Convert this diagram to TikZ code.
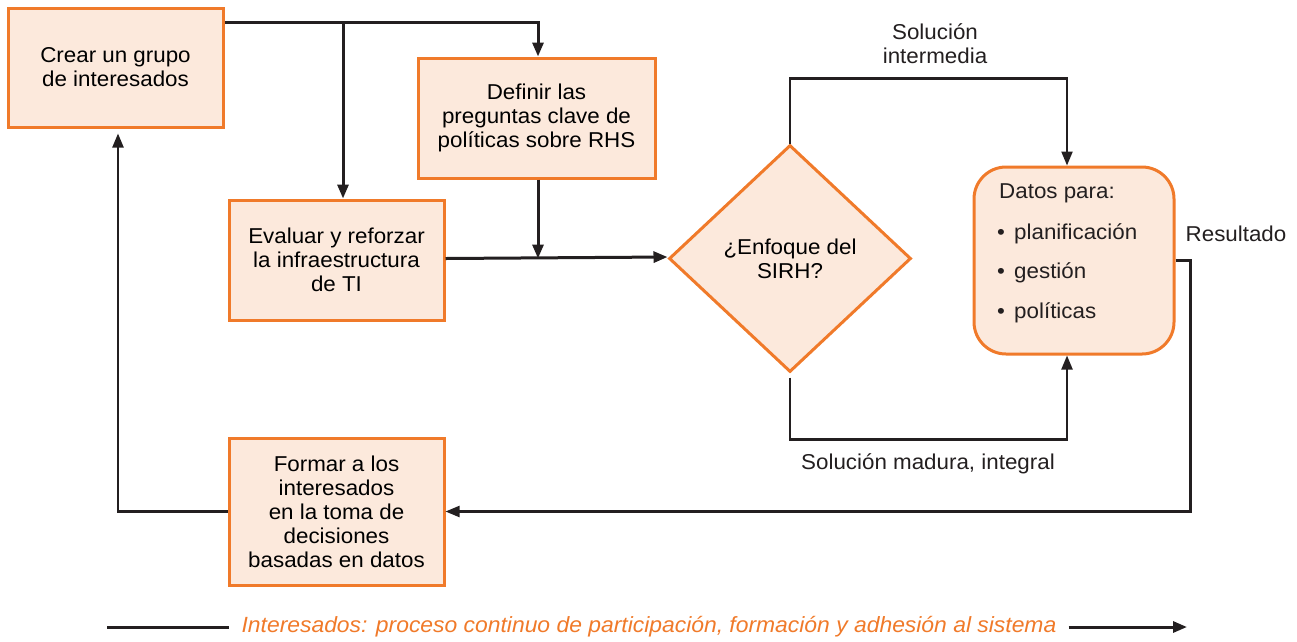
\documentclass[tikz,border=0pt]{standalone}
\usepackage{fontspec}
\setmainfont{Liberation Sans}[FakeStretch=1.04]
\usetikzlibrary{arrows.meta,shapes.geometric,calc}
\definecolor{orng}{HTML}{F07A2A}
\definecolor{peach}{HTML}{FCE9DC}
\definecolor{ink}{HTML}{231F20}
\begin{document}
\begin{tikzpicture}[x=1pt,y=-1pt,
  font=\fontsize{21.5}{24}\selectfont,
  box/.style={draw=orng,fill=peach,line width=3pt,align=center,inner sep=0pt},
  conn/.style={draw=ink,line width=3pt,-{Triangle[length=14pt,width=11pt]}},
  thin/.style={draw=ink,line width=2.2pt,-{Triangle[length=14pt,width=11pt]}},
  lbl/.style={text=ink,align=center,inner sep=0pt}]
\useasboundingbox (0,0) rectangle (1297,641);
\node[box,minimum width=215pt,minimum height=119pt] (A) at (115.5,67.5) {Crear un grupo\\de interesados};
\node[box,minimum width=237pt,minimum height=120pt] (B) at (536.5,118) {Definir las\\preguntas clave de\\políticas sobre RHS};
\node[box,minimum width=215pt,minimum height=120pt] (C) at (336.5,260) {Evaluar y reforzar\\la infraestructura\\de TI};
\node[box,minimum width=215pt,minimum height=147pt] (E) at (336.5,511.5) {Formar a los\\interesados\\en la toma de\\decisiones\\basadas en datos};
\node[box,shape=diamond,minimum width=242pt,minimum height=227pt] (dia) at (790,258.5) {¿Enfoque del\\SIRH?};
\node[box,rounded corners=32pt,minimum width=200pt,minimum height=187pt] (D) at (1074,260.5) {};
\node[lbl,anchor=west] (d0) at (999,193) {Datos para:};
\node[lbl] (b1) at (1001,234) {•};
\node[lbl] (b2) at (1001,273) {•};
\node[lbl] (b3) at (1001,313) {•};
\node[lbl,anchor=west] (d1) at (1014,234) {planificación};
\node[lbl,anchor=west] (d2) at (1014,273) {gestión};
\node[lbl,anchor=west] (d3) at (1014,313) {políticas};
\node[lbl] (l1) at (935,44) {Solución\\intermedia};
\node[lbl] (l2) at (928,464) {Solución madura, integral};
\node[lbl] (l3) at (1236,234) {Resultado};
% connectors
\draw[conn] ([yshift=-16pt]A.north east) -| ([xshift=1.5pt]B.north);
\draw[conn] ([yshift=-16pt]A.north east -| 343,0) -- ([xshift=6.5pt]C.north);
\draw[conn] ([xshift=1.5pt]B.south) -- ([xshift=1.5pt,yshift=1.5pt]B.south |- C.east);
\draw[conn] ([yshift=1.5pt]C.east) -- ([yshift=1.5pt]dia.west);
\draw[thin] (dia.north) -- ++(0,-65) -| ([xshift=-7pt]D.north);
\draw[thin] ([yshift=-4pt]dia.south) -- ++(0,62) -| ([xshift=-7pt]D.south);
\draw[thin] (D.east) -- ++(15,0) |- (E.east);
\draw[thin] (E.west) -| ([xshift=2.5pt,yshift=-5pt]A.south);
% legend
\coordinate (s1) at (107,627);
\coordinate (s2) at (1187,627);
\node[text=orng,inner xsep=12pt,inner ysep=0pt,font=\fontsize{22}{24}\selectfont\itshape] (leg) at (649,627) {Interesados: proceso continuo de participación, formación y adhesión al sistema};
\draw[ink,line width=3pt] (s1) -- (leg.west);
\draw[conn] (leg.east) -- (s2);
\end{tikzpicture}
\end{document}
